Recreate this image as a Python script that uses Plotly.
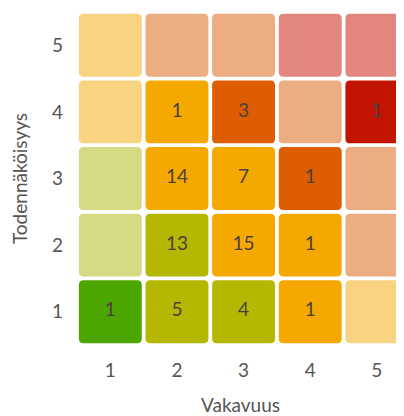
import plotly.graph_objects as go

# severity (x) and likelihood (y)
severity = [1, 2, 3, 4, 5]
likelihood = [1, 2, 3, 4, 5]

# counts per cell, rows = likelihood 1..5, cols = severity 1..5 (None = empty)
counts = [
    [1, 5, 4, 1, None],
    [None, 13, 15, 1, None],
    [None, 14, 7, 1, None],
    [None, 1, 3, None, 1],
    [None, None, None, None, None],
]

# cell colours, same layout as counts
cell_colors = [
    ['#4DA600', '#B5B800', '#B5B800', '#F5A800', '#F9D381'],
    ['#D6DA82', '#B5B800', '#F5A800', '#F5A800', '#EDAD82'],
    ['#D6DA82', '#F5A800', '#F5A800', '#DD5D00', '#EDAD82'],
    ['#F9D381', '#F5A800', '#DD5D00', '#EDAD82', '#C21400'],
    ['#F9D381', '#EDAD82', '#EDAD82', '#E1877F', '#E1877F'],
]


def rounded_rect(cx, cy, h=0.472, r=0.07):
    x0, x1, y0, y1 = cx - h, cx + h, cy - h, cy + h
    return (f"M {x0 + r},{y0} L {x1 - r},{y0} Q {x1},{y0} {x1},{y0 + r} "
            f"L {x1},{y1 - r} Q {x1},{y1} {x1 - r},{y1} "
            f"L {x0 + r},{y1} Q {x0},{y1} {x0},{y1 - r} "
            f"L {x0},{y0 + r} Q {x0},{y0} {x0 + r},{y0} Z")


fig = go.Figure()

shapes = []
for i, yv in enumerate(likelihood):
    for j, xv in enumerate(severity):
        shapes.append(dict(type='path', path=rounded_rect(xv, yv), xref='x', yref='y',
                           fillcolor=cell_colors[i][j], line=dict(width=0), layer='below'))

tx, ty, tt = [], [], []
for i, yv in enumerate(likelihood):
    for j, xv in enumerate(severity):
        if counts[i][j] is not None:
            tx.append(xv)
            ty.append(yv)
            tt.append(str(counts[i][j]))

fig.add_trace(go.Scatter(
    x=tx, y=ty, text=tt, mode='text', textposition='middle center',
    textfont=dict(family='Lato', size=19, color='#4a4040'),
    hoverinfo='none', showlegend=False, cliponaxis=False
))

fig.update_layout(
    width=396, height=408,
    shapes=shapes,
    paper_bgcolor='white', plot_bgcolor='white',
    margin=dict(l=69, r=0, t=4, b=71),
    font=dict(family='Lato', color='#555'),
    xaxis=dict(range=[0.5, 5.407], tickvals=severity, showgrid=False, zeroline=False,
               showline=False, ticks='', automargin=False, ticklabelstandoff=12,
               tickfont=dict(size=19, color='#555'),
               title=dict(text='Vakavuus', font=dict(size=19, color='#555'), standoff=18)),
    yaxis=dict(range=[0.5, 5.5], tickvals=likelihood, showgrid=False, zeroline=False,
               showline=False, ticks='', automargin=False, ticklabelstandoff=13,
               tickfont=dict(size=19, color='#555'),
               title=dict(text='Todennäköisyys', font=dict(size=19, color='#555'), standoff=19)),
)

fig.write_html("out.html")
